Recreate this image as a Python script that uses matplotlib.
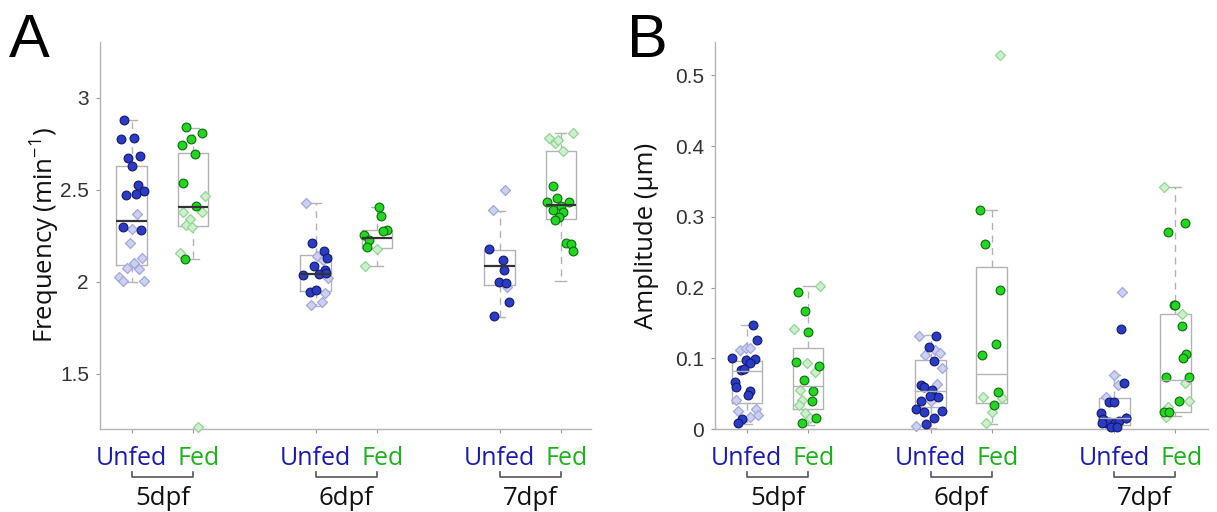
import matplotlib.pyplot as plt
from matplotlib.transforms import blended_transform_factory, ScaledTranslation

plt.rcParams['font.family'] = ['Open Sans', 'DejaVu Sans']
plt.rcParams['mathtext.fontset'] = 'custom'
plt.rcParams['mathtext.rm'] = 'Open Sans'
plt.rcParams['mathtext.it'] = 'Open Sans:italic'

positions = [1, 2, 4, 5, 7, 8]
tick_names = ['Unfed', 'Fed', 'Unfed', 'Fed', 'Unfed', 'Fed']
ages = ['5dpf', '6dpf', '7dpf']

# ---- panel A: frequency (min^-1), groups 5u 5f 6u 6f 7u 7f
freq_q1 = [2.094, 2.304, 1.951, 2.183, 1.982, 2.339]
freq_med = [2.33, 2.408, 2.045, 2.236, 2.085, 2.417]
freq_q3 = [2.629, 2.70, 2.145, 2.28, 2.172, 2.712]
freq_lo = [2.0, 2.123, 1.868, 2.087, 1.81, 2.005]
freq_hi = [2.879, 2.837, 2.426, 2.404, 2.386, 2.81]

freq_dots = [
    [2.879, 2.776, 2.783, 2.67, 2.683, 2.629, 2.526, 2.493, 2.471, 2.477, 2.296, 2.281],
    [2.842, 2.81, 2.775, 2.743, 2.694, 2.538, 2.41, 2.123],
    [2.212, 2.168, 2.132, 2.085, 2.064, 2.035, 2.04, 2.046, 1.946, 1.955],
    [2.404, 2.359, 2.28, 2.275, 2.254, 2.226, 2.19],
    [2.178, 2.118, 2.066, 1.998, 1.995, 1.89, 1.812],
    [2.522, 2.453, 2.431, 2.435, 2.413, 2.39, 2.38, 2.353, 2.335, 2.212, 2.208, 2.168],
]
freq_dots_jit = [
    [-0.125, -0.18, 0.03, -0.06, 0.13, 0.005, 0.10, 0.195, -0.087, 0.065, -0.15, 0.157],
    [-0.11, 0.15, -0.03, -0.18, 0.03, -0.16, 0.05, -0.13],
    [-0.06, 0.13, 0.19, -0.03, 0.15, -0.21, 0.05, 0.17, -0.09, 0.0],
    [0.03, 0.06, 0.157, 0.09, -0.22, -0.125, -0.17],
    [-0.17, 0.05, 0.076, -0.016, 0.1, 0.16, -0.087],
    [-0.125, -0.06, -0.22, 0.125, 0.0, -0.125, 0.03, -0.03, -0.1, 0.08, 0.157, 0.19],
]
freq_dias = [
    [2.366, 2.286, 2.209, 2.13, 2.10, 2.073, 2.07, 2.027, 2.005, 2.005],
    [2.467, 2.377, 2.38, 2.34, 2.308, 2.30, 2.158, 1.212],
    [2.426, 2.14, 2.02, 1.94, 1.873, 1.891, 2.12],
    [2.18, 2.087],
    [2.498, 2.39, 1.97],
    [2.81, 2.783, 2.755, 2.77, 2.712],
]
freq_dias_jit = [
    [0.09, 0.0, -0.03, 0.17, 0.04, -0.08, 0.12, -0.2, -0.14, 0.2],
    [0.19, -0.16, 0.14, -0.05, -0.11, -0.01, -0.21, 0.075],
    [-0.16, 0.02, 0.2, 0.15, -0.08, 0.1, 0.12],
    [0.0, -0.2],
    [0.087, -0.11, 0.12],
    [0.2, -0.2, -0.1, -0.05, 0.03],
]

# ---- panel B: amplitude (um)
amp_q1 = [0.037, 0.029, 0.0306, 0.037, 0.006, 0.0245]
amp_med = [0.0824, 0.061, 0.054, 0.0777, 0.015, 0.0692]
amp_q3 = [0.096, 0.115, 0.0975, 0.229, 0.0443, 0.162]
amp_lo = [0.007, 0.0056, 0.001, 0.007, 0.0, 0.018]
amp_hi = [0.147, 0.2025, 0.133, 0.309, 0.076, 0.342]

amp_dots = [
    [0.147, 0.126, 0.1, 0.098, 0.099, 0.094, 0.083, 0.085, 0.067, 0.06, 0.054, 0.048, 0.014, 0.008],
    [0.193, 0.167, 0.1365, 0.095, 0.089, 0.069, 0.0537, 0.0395, 0.016, 0.008],
    [0.131, 0.116, 0.0965, 0.062, 0.06, 0.055, 0.0447, 0.047, 0.04, 0.029, 0.0245, 0.026, 0.015, 0.007],
    [0.309, 0.261, 0.197, 0.12, 0.1045, 0.052, 0.034],
    [0.141, 0.0654, 0.0386, 0.0386, 0.022, 0.0137, 0.008, 0.0104, 0.008, 0.012, 0.015, 0.003, 0.003, 0.009],
    [0.291, 0.279, 0.176, 0.175, 0.1455, 0.1055, 0.1, 0.074, 0.074, 0.0395, 0.0245, 0.0235],
]
amp_dots_jit = [
    [0.1, 0.17, -0.24, -0.02, 0.14, 0.06, -0.09, -0.04, -0.2, -0.18, 0.05, 0.02, -0.08, -0.14],
    [-0.16, -0.045, 0.0, -0.19, 0.18, -0.065, 0.084, 0.065, 0.136, -0.1],
    [0.09, -0.02, 0.05, -0.16, -0.11, 0.03, 0.125, -0.016, -0.16, -0.23, -0.1, 0.18, 0.054, -0.07],
    [-0.19, -0.116, 0.14, 0.065, -0.16, 0.11, 0.045],
    [0.116, 0.16, -0.09, -0.01, -0.22, -0.175, -0.14, -0.08, 0.02, 0.085, 0.19, -0.045, 0.05, -0.2],
    [0.15, -0.116, -0.03, 0.0, 0.1, 0.18, 0.116, -0.15, 0.226, 0.065, -0.19, -0.1],
]
amp_dias = [
    [0.112, 0.114, 0.115, 0.041, 0.026, 0.029, 0.017, 0.02],
    [0.2025, 0.142, 0.093, 0.081, 0.055, 0.041, 0.034, 0.023, 0.015],
    [0.132, 0.105, 0.112, 0.107, 0.086, 0.063, 0.039, 0.005],
    [0.528, 0.0447, 0.0433, 0.0245, 0.008],
    [0.193, 0.076, 0.062, 0.0457, 0.015],
    [0.342, 0.162, 0.0654, 0.0395, 0.0306, 0.0174],
]
amp_dias_jit = [
    [-0.11, -0.02, 0.06, -0.18, -0.14, 0.15, 0.05, 0.19],
    [0.19, -0.226, -0.013, 0.116, -0.13, -0.1, -0.155, -0.045, 0.03],
    [-0.18, -0.09, 0.07, 0.15, 0.19, 0.11, 0.0, -0.23],
    [0.14, -0.15, 0.175, 0.0, -0.1],
    [0.13, 0.0, 0.065, -0.14, 0.2],
    [-0.18, 0.1, 0.15, 0.226, -0.116, -0.15],
]

dot_face = ['#2b3cc4', '#22d622']
dot_edge = ['#12186e', '#0d6b0d']
dia_face = ['#cdd0ee', '#cfeecf']
dia_edge = ['#a3a8dc', '#93d693']
name_col = ['#1a1ab0', '#1fae1f']
grey = '#b3b3b3'

fig = plt.figure(figsize=(12.17, 5.12), dpi=100)
fed_shift = ScaledTranslation(6 / 100, 0, fig.dpi_scale_trans)


def panel(ax, q1, med, q3, lo, hi, dots, dots_jit, dias, dias_jit,
          ylim, yticks, ylabels, ylabel, xlim, med_col, med_lw, lab_x):
    stats = []
    for i in range(len(positions)):
        stats.append(dict(q1=q1[i], med=med[i], q3=q3[i],
                          whislo=lo[i], whishi=hi[i], fliers=[]))
    ax.bxp(stats, positions=positions, widths=0.5, showfliers=False,
           capwidths=0.18, manage_ticks=False,
           boxprops=dict(color=grey, lw=1),
           whiskerprops=dict(color=grey, lw=1, linestyle=(0, (5, 4))),
           capprops=dict(color=grey, lw=1),
           medianprops=dict(color=med_col, lw=med_lw, zorder=5))
    for i, p in enumerate(positions):
        k = i % 2
        ax.scatter([p + j for j in dias_jit[i]], dias[i], marker='D', s=26,
                   facecolor=dia_face[k], edgecolor=dia_edge[k], lw=0.9,
                   zorder=3, clip_on=False)
        ax.scatter([p + j for j in dots_jit[i]], dots[i], marker='o', s=40,
                   facecolor=dot_face[k], edgecolor=dot_edge[k], lw=0.8,
                   zorder=4, clip_on=False)
    ax.set_xlim(xlim)
    ax.set_ylim(ylim)
    for s in ['top', 'right']:
        ax.spines[s].set_visible(False)
    for s in ['left', 'bottom']:
        ax.spines[s].set_color(grey)
        ax.spines[s].set_linewidth(1)
    ax.set_yticks(yticks)
    ax.set_yticklabels(ylabels, family='Liberation Sans', fontsize=15, color='#333333')
    ax.set_xticks(positions)
    ax.set_xticklabels(tick_names, fontsize=18)
    ax.tick_params(axis='both', direction='out', length=3, color='#999999', width=0.8)
    ax.tick_params(axis='x', pad=9)
    ax.tick_params(axis='y', pad=5)
    for i, t in enumerate(ax.get_xticklabels()):
        t.set_color(name_col[i % 2])
        if i % 2 == 1:
            t.set_transform(t.get_transform() + fed_shift)
    ax.set_ylabel(ylabel, fontsize=18.5, color='#111111')
    ax.yaxis.set_label_coords(lab_x, 0.5)
    tr = blended_transform_factory(ax.transData, ax.transAxes)
    for g in range(3):
        a, b = positions[2 * g], positions[2 * g + 1]
        ax.plot([a, a, b, b], [-0.110, -0.123, -0.123, -0.110], transform=tr,
                clip_on=False, color='#555555', lw=1.2)
        ax.text((a + b) / 2, -0.196, ages[g], transform=tr, ha='center',
                va='baseline', fontsize=18.5, color='#111111')


axA = fig.add_axes([0.0822, 0.162, 0.4034, 0.756])
axB = fig.add_axes([0.5875, 0.162, 0.405, 0.756])

panel(axA, freq_q1, freq_med, freq_q3, freq_lo, freq_hi,
      freq_dots, freq_dots_jit, freq_dias, freq_dias_jit,
      (1.2, 3.303), [1.5, 2, 2.5, 3], ['1.5', '2', '2.5', '3'],
      'Frequency (min$^{-1}$)', (0.483, 8.49), '#333333', 1.6, -0.077)
panel(axB, amp_q1, amp_med, amp_q3, amp_lo, amp_hi,
      amp_dots, amp_dots_jit, amp_dias, amp_dias_jit,
      (0, 0.547), [0, 0.1, 0.2, 0.3, 0.4, 0.5],
      ['0', '0.1', '0.2', '0.3', '0.4', '0.5'],
      'Amplitude (\u03bcm)', (0.48, 8.53), grey, 1.0, -0.114)

fig.text(0.007, 0.889, 'A', fontsize=44, family='Liberation Sans', va='baseline')
fig.text(0.515, 0.889, 'B', fontsize=44, family='Liberation Sans', va='baseline')

fig.savefig('out.png', dpi=100)
